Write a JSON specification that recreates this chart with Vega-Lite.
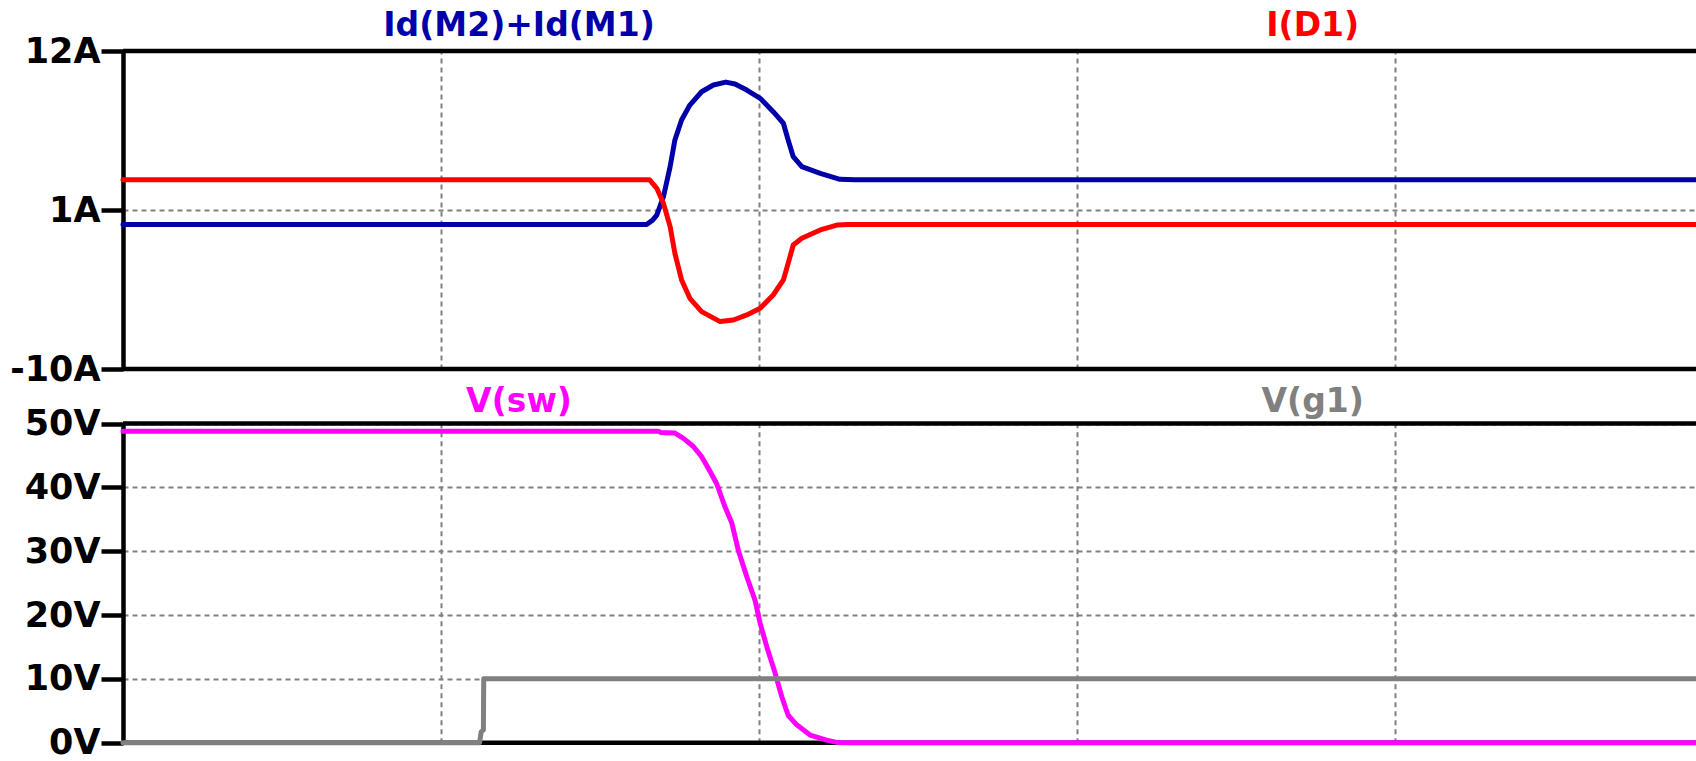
{
  "$schema": "https://vega.github.io/schema/vega-lite/v6.json",
  "autosize": "none",
  "padding": {"left": 123, "top": 51, "right": 0, "bottom": 18},
  "width": 1573,
  "height": 692,
  "background": "white",
  "config": {"view": {"stroke": null}, "font": "DejaVu Sans"},
  "datasets": {
    "currents": [
      {"series": "Id(M2)+Id(M1)", "t": 0, "I": 0},
      {"series": "Id(M2)+Id(M1)", "t": 1.646, "I": 0},
      {"series": "Id(M2)+Id(M1)", "t": 1.665, "I": 0.3},
      {"series": "Id(M2)+Id(M1)", "t": 1.678, "I": 0.65},
      {"series": "Id(M2)+Id(M1)", "t": 1.699, "I": 1.92},
      {"series": "Id(M2)+Id(M1)", "t": 1.72, "I": 4.0},
      {"series": "Id(M2)+Id(M1)", "t": 1.735, "I": 5.84},
      {"series": "Id(M2)+Id(M1)", "t": 1.756, "I": 7.23},
      {"series": "Id(M2)+Id(M1)", "t": 1.782, "I": 8.26},
      {"series": "Id(M2)+Id(M1)", "t": 1.819, "I": 9.18},
      {"series": "Id(M2)+Id(M1)", "t": 1.856, "I": 9.65},
      {"series": "Id(M2)+Id(M1)", "t": 1.895, "I": 9.85},
      {"series": "Id(M2)+Id(M1)", "t": 1.924, "I": 9.72},
      {"series": "Id(M2)+Id(M1)", "t": 1.961, "I": 9.3},
      {"series": "Id(M2)+Id(M1)", "t": 2.003, "I": 8.73},
      {"series": "Id(M2)+Id(M1)", "t": 2.044, "I": 7.8},
      {"series": "Id(M2)+Id(M1)", "t": 2.076, "I": 7.0},
      {"series": "Id(M2)+Id(M1)", "t": 2.091, "I": 5.84},
      {"series": "Id(M2)+Id(M1)", "t": 2.107, "I": 4.69},
      {"series": "Id(M2)+Id(M1)", "t": 2.134, "I": 4.0},
      {"series": "Id(M2)+Id(M1)", "t": 2.192, "I": 3.54},
      {"series": "Id(M2)+Id(M1)", "t": 2.254, "I": 3.12},
      {"series": "Id(M2)+Id(M1)", "t": 2.3, "I": 3.1},
      {"series": "Id(M2)+Id(M1)", "t": 4.945, "I": 3.1},
      {"series": "I(D1)", "t": 0, "I": 3.1},
      {"series": "I(D1)", "t": 1.655, "I": 3.1},
      {"series": "I(D1)", "t": 1.678, "I": 2.5},
      {"series": "I(D1)", "t": 1.699, "I": 1.46},
      {"series": "I(D1)", "t": 1.72, "I": -0.15},
      {"series": "I(D1)", "t": 1.735, "I": -2.0},
      {"series": "I(D1)", "t": 1.756, "I": -3.84},
      {"series": "I(D1)", "t": 1.782, "I": -5.11},
      {"series": "I(D1)", "t": 1.819, "I": -6.03},
      {"series": "I(D1)", "t": 1.877, "I": -6.72},
      {"series": "I(D1)", "t": 1.919, "I": -6.61},
      {"series": "I(D1)", "t": 1.961, "I": -6.26},
      {"series": "I(D1)", "t": 2.003, "I": -5.8},
      {"series": "I(D1)", "t": 2.044, "I": -4.88},
      {"series": "I(D1)", "t": 2.076, "I": -3.84},
      {"series": "I(D1)", "t": 2.091, "I": -2.69},
      {"series": "I(D1)", "t": 2.107, "I": -1.42},
      {"series": "I(D1)", "t": 2.134, "I": -0.96},
      {"series": "I(D1)", "t": 2.192, "I": -0.38},
      {"series": "I(D1)", "t": 2.244, "I": -0.04},
      {"series": "I(D1)", "t": 2.28, "I": 0},
      {"series": "I(D1)", "t": 4.945, "I": 0}
    ],
    "voltages": [
      {"series": "V(sw)", "t": 0, "V": 48.8},
      {"series": "V(sw)", "t": 1.683, "V": 48.8},
      {"series": "V(sw)", "t": 1.69, "V": 48.6},
      {"series": "V(sw)", "t": 1.735, "V": 48.5},
      {"series": "V(sw)", "t": 1.761, "V": 47.7},
      {"series": "V(sw)", "t": 1.793, "V": 46.4},
      {"series": "V(sw)", "t": 1.819, "V": 44.8},
      {"series": "V(sw)", "t": 1.84, "V": 43.0},
      {"series": "V(sw)", "t": 1.866, "V": 40.6},
      {"series": "V(sw)", "t": 1.892, "V": 37.0},
      {"series": "V(sw)", "t": 1.914, "V": 34.4},
      {"series": "V(sw)", "t": 1.934, "V": 30.2},
      {"series": "V(sw)", "t": 1.961, "V": 26.0},
      {"series": "V(sw)", "t": 1.987, "V": 22.3},
      {"series": "V(sw)", "t": 2.003, "V": 18.7},
      {"series": "V(sw)", "t": 2.024, "V": 15.0},
      {"series": "V(sw)", "t": 2.05, "V": 10.9},
      {"series": "V(sw)", "t": 2.071, "V": 7.2},
      {"series": "V(sw)", "t": 2.091, "V": 4.3},
      {"series": "V(sw)", "t": 2.118, "V": 2.8},
      {"series": "V(sw)", "t": 2.16, "V": 1.2},
      {"series": "V(sw)", "t": 2.212, "V": 0.4},
      {"series": "V(sw)", "t": 2.244, "V": 0.05},
      {"series": "V(sw)", "t": 2.28, "V": 0},
      {"series": "V(sw)", "t": 4.945, "V": 0},
      {"series": "V(g1)", "t": 0, "V": 0},
      {"series": "V(g1)", "t": 1.121, "V": 0},
      {"series": "V(g1)", "t": 1.126, "V": 1.7},
      {"series": "V(g1)", "t": 1.133, "V": 2.0},
      {"series": "V(g1)", "t": 1.134, "V": 10},
      {"series": "V(g1)", "t": 4.945, "V": 10}
    ]
  },
  "layer": [
    {
      "layer": [
        {
          "data": {"values": [{}]},
          "mark": {"type": "rule", "color": "black", "strokeWidth": 4.5},
          "encoding": {"y": {"datum": 12}}
        },
        {
          "data": {"values": [{}]},
          "mark": {"type": "rule", "color": "black", "strokeWidth": 4.5},
          "encoding": {"y": {"datum": -10}}
        },
        {
          "data": {"name": "currents"},
          "mark": {"type": "line", "strokeWidth": 5, "strokeCap": "round", "strokeJoin": "round"},
          "encoding": {
            "x": {
              "field": "t", "type": "quantitative",
              "scale": {"domain": [0, 4.945], "nice": false, "zero": false},
              "axis": {"orient": "top", "values": [1, 2, 3, 4], "labels": false, "ticks": false, "domain": false, "title": null,
                       "grid": true, "gridColor": "#808080", "gridDash": [5, 4], "gridWidth": 2}
            },
            "y": {
              "field": "I", "type": "quantitative",
              "scale": {"domain": [-10, 12], "range": [318, 0], "nice": false, "zero": false},
              "axis": {"orient": "left", "values": [-10, 1, 12], "labelExpr": "datum.value + 'A'", "title": null,
                       "domainColor": "black", "domainWidth": 4.5, "tickColor": "black", "tickWidth": 4.5, "tickSize": 22,
                       "labelPadding": 1, "labelFont": "DejaVu Sans", "labelFontWeight": "bold", "labelFontSize": 35,
                       "labelColor": "black", "labelOverlap": false, "labelFlush": false,
                       "grid": true, "gridColor": "#808080", "gridDash": [5, 4], "gridWidth": 2}
            },
            "color": {
              "field": "series", "type": "nominal",
              "scale": {"domain": ["Id(M2)+Id(M1)", "I(D1)", "V(sw)", "V(g1)"], "range": ["#0000AA", "#FF0000", "#FF00FF", "#808080"]},
              "legend": null
            }
          }
        },
        {
          "data": {"values": [{}]},
          "mark": {"type": "text", "font": "DejaVu Sans", "fontWeight": "bold", "fontSize": 33, "color": "#0000AA", "align": "center", "baseline": "alphabetic", "dy": -15},
          "encoding": {"x": {"datum": 1.245}, "y": {"datum": 12}, "text": {"value": "Id(M2)+Id(M1)"}}
        },
        {
          "data": {"values": [{}]},
          "mark": {"type": "text", "font": "DejaVu Sans", "fontWeight": "bold", "fontSize": 33, "color": "#FF0000", "align": "center", "baseline": "alphabetic", "dy": -15},
          "encoding": {"x": {"datum": 3.74}, "y": {"datum": 12}, "text": {"value": "I(D1)"}}
        }
      ]
    },
    {
      "layer": [
        {
          "data": {"values": [{}]},
          "mark": {"type": "rule", "color": "black", "strokeWidth": 4.5},
          "encoding": {"y": {"datum": 50}}
        },
        {
          "data": {"values": [{}]},
          "mark": {"type": "rule", "color": "black", "strokeWidth": 4.5},
          "encoding": {"y": {"datum": 0}}
        },
        {
          "data": {"name": "voltages"},
          "mark": {"type": "line", "strokeWidth": 5, "strokeCap": "round", "strokeJoin": "round"},
          "encoding": {
            "x": {
              "field": "t", "type": "quantitative",
              "scale": {"domain": [0, 4.945], "nice": false, "zero": false},
              "axis": {"orient": "top", "values": [1, 2, 3, 4], "labels": false, "ticks": false, "domain": false, "title": null,
                       "grid": true, "gridColor": "#808080", "gridDash": [5, 4], "gridWidth": 2}
            },
            "y": {
              "field": "V", "type": "quantitative",
              "scale": {"domain": [0, 50], "range": [691.7, 372.5], "nice": false, "zero": false},
              "axis": {"orient": "left", "values": [0, 10, 20, 30, 40, 50], "labelExpr": "datum.value + 'V'", "title": null,
                       "domainColor": "black", "domainWidth": 4.5, "tickColor": "black", "tickWidth": 4.5, "tickSize": 22,
                       "labelPadding": 1, "labelFont": "DejaVu Sans", "labelFontWeight": "bold", "labelFontSize": 35,
                       "labelColor": "black", "labelOverlap": false, "labelFlush": false,
                       "grid": true, "gridColor": "#808080", "gridDash": [5, 4], "gridWidth": 2}
            },
            "color": {
              "field": "series", "type": "nominal",
              "scale": {"domain": ["Id(M2)+Id(M1)", "I(D1)", "V(sw)", "V(g1)"], "range": ["#0000AA", "#FF0000", "#FF00FF", "#808080"]},
              "legend": null
            }
          }
        },
        {
          "data": {"values": [{}]},
          "mark": {"type": "text", "font": "DejaVu Sans", "fontWeight": "bold", "fontSize": 33, "color": "#FF00FF", "align": "center", "baseline": "alphabetic", "dy": -12},
          "encoding": {"x": {"datum": 1.245}, "y": {"datum": 50}, "text": {"value": "V(sw)"}}
        },
        {
          "data": {"values": [{}]},
          "mark": {"type": "text", "font": "DejaVu Sans", "fontWeight": "bold", "fontSize": 33, "color": "#808080", "align": "center", "baseline": "alphabetic", "dy": -12},
          "encoding": {"x": {"datum": 3.74}, "y": {"datum": 50}, "text": {"value": "V(g1)"}}
        }
      ]
    }
  ],
  "resolve": {"scale": {"y": "independent"}, "axis": {"y": "independent", "x": "independent"}}
}
